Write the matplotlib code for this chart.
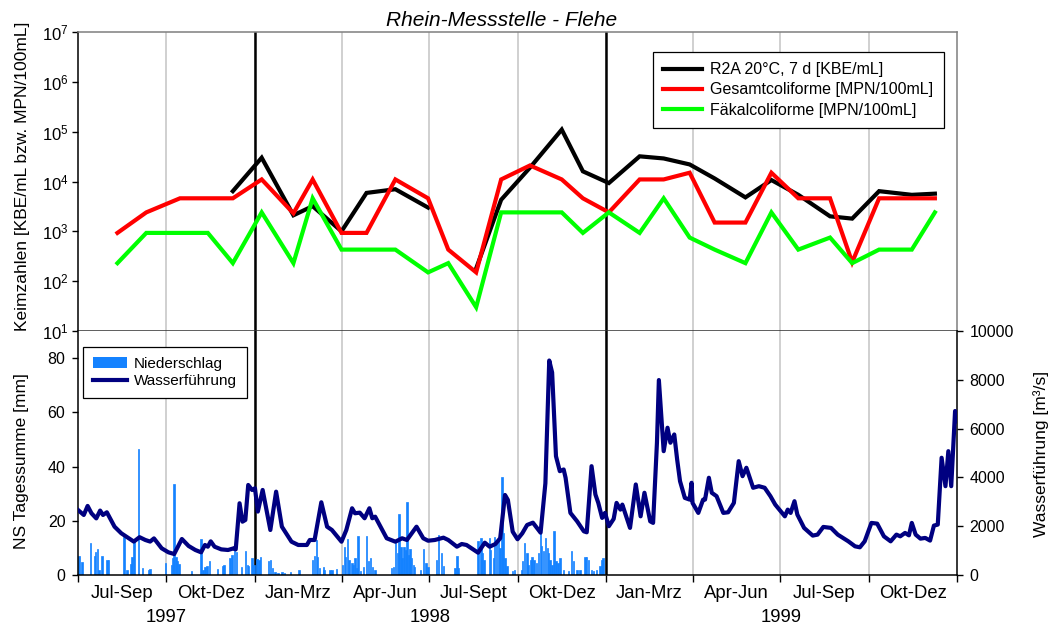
import numpy as np
import pandas as pd
import matplotlib
matplotlib.use("Agg")
import matplotlib.pyplot as plt
import matplotlib.dates as mdates
from matplotlib.ticker import LogLocator, LogFormatterSciNotation, NullLocator, FixedLocator
from matplotlib.transforms import blended_transform_factory
from matplotlib.patches import Patch
from matplotlib.lines import Line2D

plt.rcParams['font.family'] = ['Liberation Sans', 'DejaVu Sans']
plt.rcParams['mathtext.fontset'] = 'custom'
plt.rcParams['mathtext.rm'] = 'Liberation Sans'
plt.rcParams['mathtext.it'] = 'Liberation Sans:italic'
plt.rcParams['mathtext.bf'] = 'Liberation Sans:bold'

# ---------------------------------------------------------------- data
START = pd.Timestamp('1997-07-01')
END = pd.Timestamp('2000-01-01')

sample_dates = ['1997-08-11', '1997-09-10', '1997-10-15', '1997-11-13', '1997-12-09',
                '1998-01-08', '1998-02-10', '1998-03-02', '1998-04-01', '1998-04-27',
                '1998-05-27', '1998-06-30', '1998-07-21', '1998-08-19', '1998-09-14',
                '1998-10-14', '1998-11-16', '1998-12-08', '1999-01-04', '1999-02-05',
                '1999-03-02', '1999-03-29', '1999-04-24', '1999-05-26', '1999-06-22',
                '1999-07-20', '1999-08-22', '1999-09-14', '1999-10-12', '1999-11-15',
                '1999-12-09']

r2a = [np.nan, np.nan, np.nan, np.nan, 6400, 30000, 2100, 3200, 1000, 5900,
       7000, 3000, np.nan, 180, 4300, 19000, 110000, 16000, 9300, 32000,
       29000, 22000, 11500, 4800, 10700, 5400, 2000, 1800, 6400, 5400, 5700]

gesamtcoliforme = [930, 2400, 4600, 4600, 4600, 11000, 2300, 11000, 930, 930,
                   11000, 4600, 430, 150, 11000, 21000, 11000, 4600, 2400, 11000,
                   11000, 15000, 1500, 1500, 15000, 4600, 4600, 240, 4600, 4600, 4600]

faekalcoliforme = [230, 930, 930, 930, 230, 2400, 230, 4600, 430, 430,
                   430, 150, 230, 30, 2400, 2400, 2400, 930, 2400, 930,
                   4600, 750, 430, 230, 2400, 430, 750, 230, 430, 430, 2400]

# daily discharge (days after 1 Jul 1997, m3/s)
flow_day = [0, 6, 10, 14, 19, 23, 26, 30, 38, 45,
            58, 64, 70, 75, 79, 87, 94, 100, 108, 115,
            122, 128, 132, 135, 138, 142, 149, 156, 162, 164,
            168, 171, 174, 177, 181, 184, 187, 192, 200, 206,
            212, 222, 229, 238, 241, 246, 253, 259, 264, 274,
            279, 285, 288, 293, 298, 303, 306, 309, 321, 330,
            337, 342, 352, 359, 364, 371, 380, 385, 394, 399,
            404, 416, 423, 428, 434, 439, 444, 447, 452, 457,
            462, 467, 473, 481, 486, 490, 493, 497, 501, 505,
            507, 512, 519, 526, 529, 534, 538, 541, 545, 548,
            552, 557, 560, 564, 566, 574, 580, 585, 589, 595,
            598, 602, 604, 609, 613, 616, 620, 623, 626, 631,
            636, 638, 639, 645, 650, 652, 656, 659, 664, 671,
            676, 682, 687, 691, 695, 702, 708, 714, 720, 725,
            732, 735, 738, 741, 745, 748, 755, 764, 769, 775,
            783, 790, 801, 808, 813, 818, 825, 831, 838, 845,
            851, 855, 860, 864, 867, 871, 876, 881, 886, 890,
            894, 898, 902, 905, 908, 912, 914]

flow_m3s = [2665, 2460, 2830, 2530, 2320, 2640, 2460, 2570, 1980, 1710,
            1370, 1550, 1435, 1370, 1500, 1095, 930, 860, 1476, 1190,
            1025, 930, 1230, 1160, 1380, 1160, 1050, 1025, 1095, 1050,
            2940, 2185, 2255, 3690, 3485, 3555, 2600, 3485, 1845, 3415,
            1980, 1365, 1230, 1230, 1435, 1435, 2980, 1980, 1845, 1365,
            1845, 2735, 2530, 2555, 2325, 2735, 2325, 2390, 1505, 1365,
            1505, 1435, 1980, 1505, 1405, 1435, 1530, 1435, 1160, 1270,
            1230, 915, 1325, 1160, 1270, 1505, 3280, 3075, 1775, 1465,
            1710, 2050, 2145, 1735, 3760, 8790, 8300, 4870, 4255, 4325,
            3985, 2545, 2200, 1790, 1750, 4460, 3300, 2955, 2340, 2545,
            2000, 2300, 2955, 2680, 2885, 1930, 3710, 2405, 3370, 2200,
            2135, 5420, 7990, 5075, 6035, 5420, 5760, 4735, 3845, 3160,
            3090, 3780, 2955, 2545, 3090, 3090, 3985, 3370, 3230, 2545,
            2570, 2955, 4665, 4050, 4395, 3575, 3640, 3575, 3230, 2885,
            2545, 2405, 2680, 2545, 3025, 2475, 1930, 1615, 1655, 1970,
            1930, 1655, 1380, 1175, 1135, 1380, 2135, 2105, 1585, 1380,
            1655, 1585, 1725, 1625, 2135, 1655, 1490, 1520, 1410, 2025,
            2065, 4805, 3640, 5075, 3640, 6720, 6310]

# daily precipitation (days after 1 Jul 1997, mm)
rain_day = [1, 4, 13, 17, 18, 20, 22, 25, 30, 32,
            48, 51, 55, 56, 58, 63, 67, 74, 75, 91,
            97, 99, 100, 102, 103, 105, 118, 128, 130, 132,
            134, 137, 145, 151, 152, 158, 160, 163, 165, 170,
            174, 176, 177, 181, 183, 186, 188, 190, 198, 200,
            202, 205, 208, 212, 215, 221, 230, 244, 246, 248,
            249, 251, 255, 256, 262, 264, 269, 275, 277, 278,
            280, 282, 285, 286, 288, 290, 291, 294, 297, 300,
            302, 304, 306, 309, 326, 328, 330, 332, 334, 336,
            337, 339, 341, 342, 344, 345, 347, 349, 350, 356,
            359, 362, 364, 373, 375, 378, 380, 392, 394, 395,
            416, 419, 420, 422, 428, 429, 432, 433, 435, 437,
            439, 441, 442, 444, 446, 452, 454, 461, 462, 464,
            467, 468, 471, 472, 474, 477, 479, 481, 482, 484,
            486, 488, 489, 491, 493, 495, 497, 499, 501, 505,
            510, 513, 515, 519, 522, 527, 529, 531, 534, 536,
            539, 543, 545, 546]

rain_mm = [7.1, 4.8, 11.8, 7.1, 8.3, 9.7, 2.0, 7.1, 5.4, 5.6,
           14.2, 1.7, 4.2, 6.6, 13.0, 46.5, 2.6, 2.0, 2.2, 4.6,
           3.8, 6.3, 33.6, 6.6, 5.0, 4.2, 1.3, 13.4, 2.0, 2.8,
           3.3, 5.0, 2.2, 3.4, 3.7, 6.3, 7.2, 9.3, 8.6, 3.0,
           9.0, 3.7, 3.3, 6.3, 3.7, 5.9, 5.6, 6.8, 5.0, 5.4,
           2.6, 1.0, 0.8, 1.1, 0.8, 1.1, 2.0, 5.6, 7.1, 13.0,
           6.6, 2.6, 2.8, 2.0, 2.0, 2.0, 2.3, 3.8, 10.5, 6.8,
           13.4, 5.6, 4.6, 3.8, 6.3, 2.6, 14.5, 1.6, 2.8, 14.5,
           5.0, 6.3, 3.0, 2.0, 2.6, 3.0, 11.8, 8.1, 22.4, 10.5,
           6.3, 10.5, 9.3, 26.9, 7.5, 9.5, 6.3, 3.7, 2.8, 2.0,
           9.7, 4.6, 3.0, 5.6, 14.8, 8.1, 3.2, 2.6, 7.1, 2.6,
           12.4, 13.6, 8.1, 5.6, 13.6, 9.3, 6.3, 14.2, 12.0, 13.6,
           10.0, 36.0, 15.5, 6.3, 3.2, 1.3, 1.9, 1.9, 5.0, 11.8,
           8.1, 3.7, 5.6, 6.8, 5.6, 4.4, 8.1, 15.7, 10.6, 8.7,
           13.6, 10.0, 8.1, 5.6, 3.7, 16.3, 5.0, 4.4, 6.3, 1.9,
           1.3, 9.0, 5.0, 1.9, 1.9, 6.8, 6.8, 5.6, 1.9, 1.3,
           1.9, 3.2, 5.6, 6.3]

quarter_labels = ['Jul-Sep', 'Okt-Dez', 'Jan-Mrz', 'Apr-Jun', 'Jul-Sept',
                  'Okt-Dez', 'Jan-Mrz', 'Apr-Jun', 'Jul-Sep', 'Okt-Dez']
year_labels = ['1997', '1998', '1999']

RAIN_BLUE = '#1482ff'
FLOW_NAVY = '#000080'

# ---------------------------------------------------------------- helpers
def day_to_num(days):
    return mdates.date2num(START + pd.to_timedelta(np.asarray(days, dtype=float), unit='D'))

x_samples = mdates.date2num(pd.to_datetime(sample_dates))
x_flow = day_to_num(flow_day)
x_rain = day_to_num(rain_day)

quarter_edges = pd.date_range(START, END, freq='QS')
q_num = mdates.date2num(quarter_edges)
q_mid = (q_num[:-1] + q_num[1:]) / 2
year_edges = mdates.date2num(pd.to_datetime(['1997-07-01', '1998-01-01', '1999-01-01', '2000-01-01']))
year_mid = (year_edges[:-1] + year_edges[1:]) / 2
year_bounds = year_edges[1:-1]

# ---------------------------------------------------------------- figure
W, H = 1055, 628
fig = plt.figure(figsize=(W / 100, H / 100), dpi=100)
L, R = 78 / W, 957 / W
ax_top = fig.add_axes([L, 1 - 331 / H, R - L, (331 - 32) / H])
ax_bot = fig.add_axes([L, 1 - 575 / H, R - L, (575 - 331) / H], sharex=ax_top)
ax_q = ax_bot.twinx()

grid_kw = dict(color='#c8c8c8', lw=1.2, zorder=0)
for ax in (ax_top, ax_bot):
    for xq in q_num[1:-1]:
        ax.axvline(xq, **grid_kw)
    for xy in year_bounds:
        ax.axvline(xy, color='black', lw=1.8, zorder=1)

# ---- top panel: bacterial counts
ax_top.set_yscale('log')
ax_top.set_ylim(10, 1e7)
ax_top.set_xlim(q_num[0], q_num[-1])
line_kw = dict(lw=3.0, solid_joinstyle='miter', zorder=3)
ax_top.plot(x_samples, r2a, color='black', label='R2A 20°C, 7 d [KBE/mL]', **line_kw)
ax_top.plot(x_samples, gesamtcoliforme, color='#ff0000', label='Gesamtcoliforme [MPN/100mL]', **line_kw)
ax_top.plot(x_samples, faekalcoliforme, color='#00ff00', label='Fäkalcoliforme [MPN/100mL]', **line_kw)

ax_top.yaxis.set_major_locator(LogLocator(base=10, numticks=10))
ax_top.yaxis.set_major_formatter(LogFormatterSciNotation())
ax_top.yaxis.set_minor_locator(NullLocator())
ax_top.tick_params(axis='y', direction='out', length=4, width=1, labelsize=12, pad=3)
ax_top.tick_params(axis='x', which='both', bottom=False, labelbottom=False)
ax_top.spines['left'].set_color('black')
ax_top.spines['top'].set_color('#7f7f7f')
ax_top.spines['right'].set_color('#7f7f7f')
ax_top.spines['bottom'].set_color('#333333')
for s in ax_top.spines.values():
    s.set_linewidth(1.1)

leg_top = ax_top.legend(loc='upper right', bbox_to_anchor=(944 / W, 1 - 52 / H),
                        bbox_transform=fig.transFigure, borderaxespad=0,
                        fontsize=11.5, handlelength=2.4, handletextpad=0.55,
                        labelspacing=0.32, borderpad=0.65, fancybox=False,
                        framealpha=1, edgecolor='black')
leg_top.get_frame().set_linewidth(0.9)

# ---- bottom panel: precipitation bars and discharge
ax_bot.bar(x_rain, rain_mm, width=1.5, color=RAIN_BLUE, edgecolor=RAIN_BLUE,
           linewidth=0.5, zorder=2)
ax_bot.set_ylim(0, 90)
ax_bot.yaxis.set_major_locator(FixedLocator([0, 20, 40, 60, 80]))
ax_bot.tick_params(axis='y', direction='out', length=4, width=1, labelsize=11.5, pad=5)

ax_q.plot(x_flow, flow_m3s, color=FLOW_NAVY, lw=3.0, solid_joinstyle='round', zorder=3)
ax_q.set_ylim(0, 10000)
ax_q.yaxis.set_major_locator(FixedLocator(np.arange(0, 10001, 2000)))
ax_q.tick_params(axis='y', direction='out', length=4, width=1, labelsize=11.5, pad=5)

ax_bot.xaxis.set_major_locator(FixedLocator(q_num))
ax_bot.xaxis.set_minor_locator(NullLocator())
ax_bot.tick_params(axis='x', which='major', direction='out', length=5, width=1,
                   labelbottom=False)
ax_bot.set_xlim(q_num[0], q_num[-1])

ax_bot.spines['top'].set_visible(False)
ax_q.spines['top'].set_visible(False)
ax_bot.spines['right'].set_visible(False)
ax_q.spines['left'].set_visible(False)
ax_q.spines['bottom'].set_visible(False)
for s in ('left', 'bottom'):
    ax_bot.spines[s].set_color('black')
    ax_bot.spines[s].set_linewidth(1.1)
ax_q.spines['right'].set_color('black')
ax_q.spines['right'].set_linewidth(1.1)

# category axis labels
trans = blended_transform_factory(ax_bot.transData, fig.transFigure)
for xm, lab in zip(q_mid, quarter_labels):
    ax_bot.text(xm, 1 - 598 / H, lab, transform=trans, ha='center', va='baseline',
                fontsize=13.3)
for xm, lab in zip(year_mid, year_labels):
    ax_bot.text(xm, 1 - 622 / H, lab, transform=trans, ha='center', va='baseline',
                fontsize=13.3)

handles = [Patch(facecolor=RAIN_BLUE, edgecolor='none'),
           Line2D([], [], color=FLOW_NAVY, lw=3.0)]
leg_bot = ax_q.legend(handles, ['Niederschlag', 'Wasserführung'], loc='upper left',
                      bbox_to_anchor=(83 / W, 1 - 347 / H), bbox_transform=fig.transFigure,
                      borderaxespad=0, fontsize=11, handlelength=2.2, handleheight=0.75,
                      handletextpad=0.5, labelspacing=0.2, borderpad=0.65,
                      fancybox=False, framealpha=1, edgecolor='black')
leg_bot.get_frame().set_linewidth(0.9)

# titles and axis labels
fig.text(502 / W, 1 - 26 / H, 'Rhein-Messstelle - Flehe', ha='center', va='baseline',
         fontsize=15, style='italic')
fig.text(23 / W, 1 - 176 / H, 'Keimzahlen [KBE/mL bzw. MPN/100mL]', rotation=90,
         ha='center', va='center', fontsize=12.5)
fig.text(22 / W, 1 - 461 / H, 'NS Tagessumme [mm]', rotation=90,
         ha='center', va='center', fontsize=12.5)
fig.text(1041 / W, 1 - 454 / H, 'Wasserführung [m³/s]', rotation=90,
         ha='center', va='center', fontsize=12.5)

fig.savefig('out.png', dpi=100)
